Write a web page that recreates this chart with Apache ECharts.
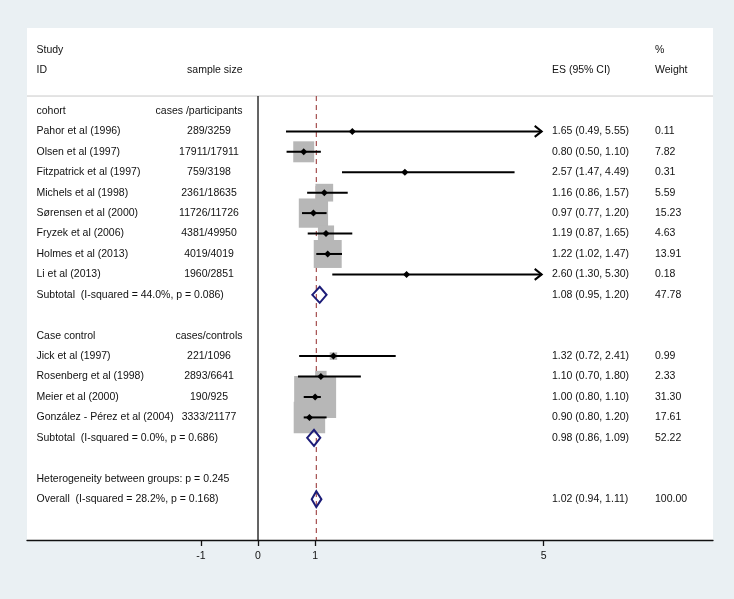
<!DOCTYPE html>
<html>
<head>
<meta charset="utf-8">
<script src="https://cdn.jsdelivr.net/npm/echarts@6/dist/echarts.min.js"></script>
<style>
html,body{margin:0;padding:0;background:#eaf0f3;}
#chart{width:734px;height:599px;}
</style>
</head>
<body>
<div id="chart"></div>
<script>
// ---- data ----
const cohortStudies = ['Pahor et al (1996)','Olsen et al (1997)','Fitzpatrick et al (1997)','Michels et al (1998)','Sørensen et al (2000)','Fryzek et al (2006)','Holmes et al (2013)','Li et al (2013)'];
const cohortSizes = ['289/3259','17911/17911','759/3198','2361/18635','11726/11726','4381/49950','4019/4019','1960/2851'];
const cohortES = [1.65,0.80,2.57,1.16,0.97,1.19,1.22,2.60];
const cohortLo = [0.49,0.50,1.47,0.86,0.77,0.87,1.02,1.30];
const cohortHi = [5.55,1.10,4.49,1.57,1.20,1.65,1.47,5.30];
const cohortWeight = [0.11,7.82,0.31,5.59,15.23,4.63,13.91,0.18];

const ccStudies = ['Jick et al (1997)','Rosenberg et al (1998)','Meier et al (2000)','González - Pérez et al (2004)'];
const ccSizes = ['221/1096','2893/6641','190/925','3333/21177'];
const ccES = [1.32,1.10,1.00,0.90];
const ccLo = [0.72,0.70,0.80,0.80];
const ccHi = [2.41,1.80,1.10,1.20];
const ccWeight = [0.99,2.33,31.30,17.61];

const groupNames = ['cohort','Case control'];
const groupSizeHeaders = ['cases /participants','cases/controls'];
const subtotalLabels = ['Subtotal  (I-squared = 44.0%, p = 0.086)','Subtotal  (I-squared = 0.0%, p = 0.686)'];
const subtotalES = [1.08,0.98];
const subtotalLo = [0.95,0.86];
const subtotalHi = [1.20,1.09];
const subtotalWeight = [47.78,52.22];

const heterogeneityText = 'Heterogeneity between groups: p = 0.245';
const overallLabel = 'Overall  (I-squared = 28.2%, p = 0.168)';
const overallES = 1.02, overallLo = 0.94, overallHi = 1.11, overallWeight = 100.00;

const xTicks = [-1,0,1,5];
const ciClip = 5;

// ---- layout ----
const COL = {left:36.5, sizeC:209, sizeR:242.5, es:552, wt:655};
const FONT = '10.5px "Liberation Sans", Arial, sans-serif';
const headerLineRow = 2.27, axisRow = 24;

// build rows
const texts = [];   // {row, x, align, text}
const studies = []; // {row, es, lo, hi, w}
const diamonds = []; // {row, es, lo, hi}
function addText(row, x, align, text){ texts.push({row, x, align, text}); }
function fmtCI(e,l,h){ return e.toFixed(2)+' ('+l.toFixed(2)+', '+h.toFixed(2)+')'; }

addText(0, COL.left, 'left', 'Study');
addText(0, COL.wt, 'left', '%');
addText(1, COL.left, 'left', 'ID');
addText(1, COL.sizeR, 'right', 'sample size');
addText(1, COL.es, 'left', 'ES (95% CI)');
addText(1, COL.wt, 'left', 'Weight');

const groups = [
  {names:cohortStudies, sizes:cohortSizes, es:cohortES, lo:cohortLo, hi:cohortHi, w:cohortWeight},
  {names:ccStudies, sizes:ccSizes, es:ccES, lo:ccLo, hi:ccHi, w:ccWeight}
];
let row = 3;
groups.forEach((g, gi) => {
  addText(row, COL.left, 'left', groupNames[gi]);
  addText(row, COL.sizeR, 'right', groupSizeHeaders[gi]);
  row++;
  g.names.forEach((n, i) => {
    addText(row, COL.left, 'left', n);
    addText(row, COL.sizeC, 'center', g.sizes[i]);
    addText(row, COL.es, 'left', fmtCI(g.es[i], g.lo[i], g.hi[i]));
    addText(row, COL.wt, 'left', g.w[i].toFixed(2));
    studies.push({row, es:g.es[i], lo:g.lo[i], hi:g.hi[i], w:g.w[i]});
    row++;
  });
  addText(row, COL.left, 'left', subtotalLabels[gi]);
  addText(row, COL.es, 'left', fmtCI(subtotalES[gi], subtotalLo[gi], subtotalHi[gi]));
  addText(row, COL.wt, 'left', subtotalWeight[gi].toFixed(2));
  diamonds.push({row, es:subtotalES[gi], lo:subtotalLo[gi], hi:subtotalHi[gi]});
  row += 2;
});
addText(row, COL.left, 'left', heterogeneityText);
row++;
addText(row, COL.left, 'left', overallLabel);
addText(row, COL.es, 'left', fmtCI(overallES, overallLo, overallHi));
addText(row, COL.wt, 'left', overallWeight.toFixed(2));
diamonds.push({row, es:overallES, lo:overallLo, hi:overallHi});

const chart = echarts.init(document.getElementById('chart'));
const SQ_K = 7.5;

chart.setOption({
  backgroundColor: '#eaf0f3',
  animation: false,
  grid: {left:27, right:21, top:28, bottom:59, show:true, backgroundColor:'#ffffff', borderWidth:0},
  xAxis: {
    type:'value', min:-4.043, max:7.963,
    axisLine:{show:true, onZero:false, lineStyle:{color:'#111', width:1.3}},
    axisTick:{show:true, customValues:xTicks, length:6, lineStyle:{color:'#111', width:1.3}},
    axisLabel:{show:true, customValues:xTicks, margin:11, color:'#111', fontSize:10.5, fontFamily:'"Liberation Sans", Arial, sans-serif'},
    splitLine:{show:false}
  },
  yAxis: {type:'value', inverse:true, min:-1.06, max:axisRow, show:false},
  series: [
    { // header rule, zero line, reference dashed line
      type:'custom', clip:false, z:1,
      data:[[0, headerLineRow]],
      renderItem:(params, api) => {
        const cs = params.coordSys;
        const yTop = api.coord([0, headerLineRow])[1];
        const yBot = api.coord([0, axisRow])[1];
        const x0 = api.coord([0, 0])[0];
        const xr = api.coord([overallES, 0])[0];
        return {type:'group', children:[
          {type:'line', shape:{x1:cs.x, y1:yTop, x2:cs.x+cs.width, y2:yTop}, style:{stroke:'#c8c8c8', lineWidth:1}},
          {type:'line', shape:{x1:xr, y1:yTop, x2:xr, y2:yBot}, style:{stroke:'#922a2a', lineWidth:1, lineDash:[5,4]}},
          {type:'line', shape:{x1:x0, y1:yTop, x2:x0, y2:yBot}, style:{stroke:'#111', lineWidth:1.3}}
        ]};
      }
    },
    { // weight squares
      type:'custom', clip:false, z:2,
      data: studies.map(s => [s.es, s.row, s.w]),
      renderItem:(params, api) => {
        const p = api.coord([api.value(0), api.value(1)]);
        const side = SQ_K * Math.sqrt(api.value(2));
        return {type:'rect', shape:{x:p[0]-side/2, y:p[1]-side/2, width:side, height:side}, style:{fill:'#b7b7b7'}};
      }
    },
    { // CI lines, arrows, point markers
      type:'custom', clip:false, z:3,
      data: studies.map(s => [s.es, s.row, s.lo, s.hi]),
      renderItem:(params, api) => {
        const y = api.coord([0, api.value(1)])[1];
        const hi = api.value(3);
        const clipped = hi > ciClip;
        const xl = api.coord([api.value(2), 0])[0];
        const xh = api.coord([clipped ? ciClip : hi, 0])[0] - (clipped ? 2 : 0);
        const xe = api.coord([api.value(0), 0])[0];
        const ch = [
          {type:'line', shape:{x1:xl, y1:y, x2:xh, y2:y}, style:{stroke:'#000', lineWidth:2}},
          {type:'polygon', shape:{points:[[xe-3.5,y],[xe,y-3.5],[xe+3.5,y],[xe,y+3.5]]}, style:{fill:'#000'}}
        ];
        if (clipped) {
          ch.push({type:'polyline', shape:{points:[[xh-7,y-5.5],[xh,y],[xh-7,y+5.5]]}, style:{stroke:'#000', lineWidth:2, fill:null}});
        }
        return {type:'group', children:ch};
      }
    },
    { // pooled diamonds
      type:'custom', clip:false, z:4,
      data: diamonds.map(d => [d.es, d.row, d.lo, d.hi]),
      renderItem:(params, api) => {
        const y = api.coord([0, api.value(1)])[1];
        const xe = api.coord([api.value(0), 0])[0];
        const xl = api.coord([api.value(2), 0])[0];
        const xh = api.coord([api.value(3), 0])[0];
        const h = 8;
        return {type:'polygon', shape:{points:[[xl,y],[xe,y-h],[xh,y],[xe,y+h]]}, style:{fill:null, stroke:'#1c1c78', lineWidth:2}};
      }
    },
    { // text
      type:'custom', clip:false, z:5,
      data: texts.map(t => [0, t.row]),
      renderItem:(params, api) => {
        const t = texts[params.dataIndex];
        const y = api.coord([0, t.row])[1];
        return {type:'text', x:t.x, y:y, style:{text:t.text, fill:'#111', font:FONT, textAlign:t.align, textVerticalAlign:'middle'}};
      }
    }
  ]
});
</script>
</body>
</html>
